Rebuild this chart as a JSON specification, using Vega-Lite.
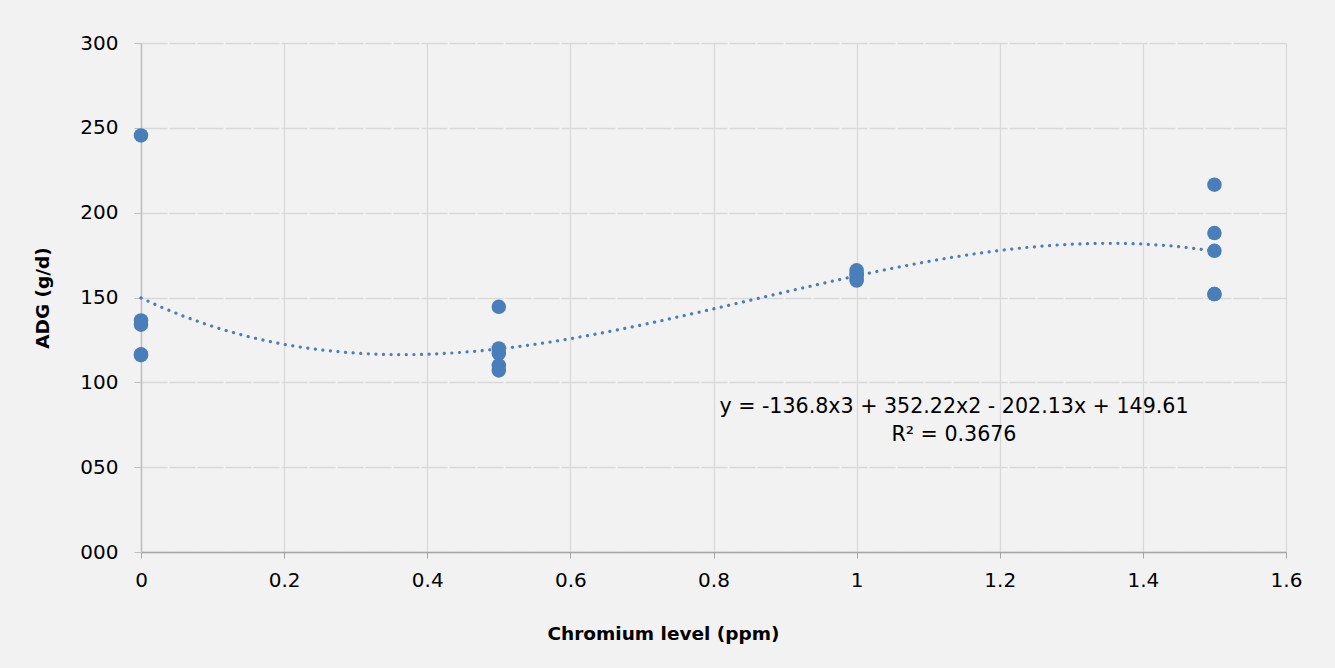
{
  "$schema": "https://vega.github.io/schema/vega-lite/v6.json",
  "width": 1145,
  "height": 509,
  "autosize": {"type": "none"},
  "padding": {"left": 141, "top": 43, "right": 49, "bottom": 116},
  "background": "#f2f2f2",
  "config": {
    "view": {"stroke": null},
    "font": "DejaVu Sans",
    "axis": {"labelFont": "DejaVu Sans", "titleFont": "DejaVu Sans", "labelColor": "#000000", "titleColor": "#000000", "titleFontWeight": "bold", "labelFlush": false, "labelOverlap": false}
  },
  "datasets": {
    "pts": [
      {"chromium": 0, "adg": 245.5},
      {"chromium": 0, "adg": 136.5},
      {"chromium": 0, "adg": 134},
      {"chromium": 0, "adg": 116.5},
      {"chromium": 0, "adg": 116},
      {"chromium": 0.5, "adg": 144.5},
      {"chromium": 0.5, "adg": 120},
      {"chromium": 0.5, "adg": 117},
      {"chromium": 0.5, "adg": 110},
      {"chromium": 0.5, "adg": 107},
      {"chromium": 1, "adg": 166},
      {"chromium": 1, "adg": 164},
      {"chromium": 1, "adg": 163},
      {"chromium": 1, "adg": 161},
      {"chromium": 1, "adg": 160},
      {"chromium": 1.5, "adg": 216.5},
      {"chromium": 1.5, "adg": 188},
      {"chromium": 1.5, "adg": 177.5},
      {"chromium": 1.5, "adg": 152},
      {"chromium": 1.5, "adg": 152}
    ],
    "labels": [
      {"chromium": 1.136, "adg": 85.4, "txt": "y = -136.8x3 + 352.22x2 - 202.13x + 149.61"},
      {"chromium": 1.136, "adg": 68.9, "txt": "R² = 0.3676"}
    ]
  },
  "layer": [
    {
      "data": {"name": "pts"},
      "mark": {"type": "circle", "size": 210, "opacity": 1, "color": "#4a7ebb"},
      "encoding": {
        "x": {
          "field": "chromium", "type": "quantitative",
          "scale": {"domain": [0, 1.6], "nice": false, "zero": false},
          "axis": {
            "values": [0, 0.2, 0.4, 0.6, 0.8, 1, 1.2, 1.4, 1.6],
            "format": ".1~f",
            "title": "Chromium level (ppm)",
            "titleFontSize": 18.5,
            "titleX": 522, "titleY": 81, "titleAlign": "center", "titleBaseline": "middle", "titleAnchor": null,
            "labelFontSize": 20,
            "labelPadding": 12,
            "tickSize": 6,
            "tickColor": "#a6a6a6",
            "domainColor": "#a6a6a6",
            "domainWidth": 1.5,
            "gridColor": "#d9d9d9",
            "gridWidth": 1.3
          }
        },
        "y": {
          "field": "adg", "type": "quantitative",
          "scale": {"domain": [0, 300], "nice": false},
          "axis": {
            "values": [0, 50, 100, 150, 200, 250, 300],
            "format": "03d",
            "title": "ADG (g/d)",
            "titleFontSize": 18.5,
            "titleAngle": -90,
            "titleX": -99, "titleY": 254.5, "titleAlign": "center", "titleBaseline": "middle", "titleAnchor": null,
            "labelFontSize": 20,
            "labelPadding": 16,
            "tickSize": 7,
            "tickColor": "#bfbfbf",
            "domainColor": "#bfbfbf",
            "domainWidth": 1.5,
            "gridColor": "#d9d9d9",
            "gridWidth": 1.5,
            "gridDash": [26, 2]
          }
        }
      }
    },
    {
      "data": {"name": "pts"},
      "transform": [
        {"regression": "adg", "on": "chromium", "method": "poly", "order": 3, "extent": [0, 1.5]}
      ],
      "mark": {"type": "line", "color": "#4a7ebb", "strokeWidth": 3.2, "strokeDash": [0.1, 7.5], "strokeCap": "round"},
      "encoding": {
        "x": {"field": "chromium", "type": "quantitative"},
        "y": {"field": "adg", "type": "quantitative"}
      }
    },
    {
      "data": {"name": "labels"},
      "mark": {"type": "text", "fontSize": 20.6, "color": "#000000", "align": "center", "baseline": "middle", "font": "DejaVu Sans"},
      "encoding": {
        "x": {"field": "chromium", "type": "quantitative"},
        "y": {"field": "adg", "type": "quantitative"},
        "text": {"field": "txt"}
      }
    }
  ]
}
